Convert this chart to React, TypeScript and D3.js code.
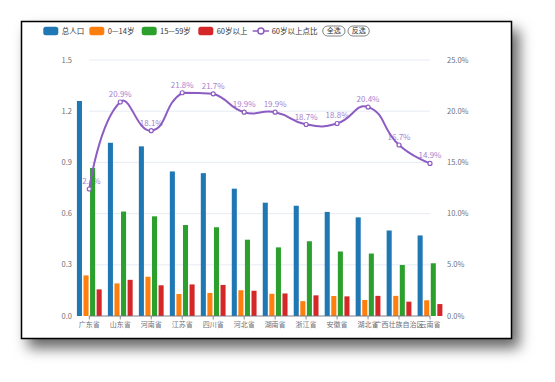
import React from "react";
import * as d3 from "d3";

const categories = ["广东省", "山东省", "河南省", "江苏省", "四川省", "河北省", "湖南省", "浙江省", "安徽省", "湖北省", "广西壮族自治区", "云南省"];
const totalPop = [1.26, 1.015, 0.994, 0.847, 0.837, 0.746, 0.664, 0.646, 0.61, 0.578, 0.501, 0.472];
const age0to14 = [0.238, 0.191, 0.23, 0.129, 0.135, 0.151, 0.13, 0.087, 0.117, 0.094, 0.118, 0.092];
const age15to59 = [0.867, 0.612, 0.584, 0.533, 0.52, 0.447, 0.402, 0.438, 0.378, 0.366, 0.299, 0.309];
const age60plus = [0.156, 0.212, 0.18, 0.185, 0.182, 0.148, 0.132, 0.121, 0.115, 0.118, 0.084, 0.07];
const ratio60 = [12.4, 20.9, 18.1, 21.8, 21.7, 19.9, 19.9, 18.7, 18.8, 20.4, 16.7, 14.9];
const leftTicks = [0, 0.3, 0.6, 0.9, 1.2, 1.5];
const rightTicks = [0, 5, 10, 15, 20, 25];
const barSeriesNames = ["总人口", "0—14岁", "15—59岁", "60岁以上"];
const lineSeriesName = "60岁以上点比";
const barColors = ["#1f77b4", "#ff7f0e", "#2ca02c", "#d62728"];
const lineColor = "#8c5cc2";

const FONT = "'Noto Sans CJK SC', 'Noto Sans', sans-serif";

function smoothPath(pts: [number, number][], smooth: number) {
  const min = [Infinity, Infinity];
  const max = [-Infinity, -Infinity];
  pts.forEach((p) => {
    min[0] = Math.min(min[0], p[0]); min[1] = Math.min(min[1], p[1]);
    max[0] = Math.max(max[0], p[0]); max[1] = Math.max(max[1], p[1]);
  });
  const cps: [number, number][] = [];
  const n = pts.length;
  for (let i = 0; i < n; i++) {
    const p = pts[i];
    if (i === 0 || i === n - 1) { cps.push([p[0], p[1]]); continue; }
    const prev = pts[i - 1], next = pts[i + 1];
    const vx = (next[0] - prev[0]) * smooth, vy = (next[1] - prev[1]) * smooth;
    let d0 = Math.hypot(p[0] - prev[0], p[1] - prev[1]);
    let d1 = Math.hypot(p[0] - next[0], p[1] - next[1]);
    const s = d0 + d1;
    if (s) { d0 /= s; d1 /= s; }
    const clamp = (c: [number, number]): [number, number] => [
      Math.min(Math.max(c[0], min[0]), max[0]),
      Math.min(Math.max(c[1], min[1]), max[1]),
    ];
    cps.push(clamp([p[0] - vx * d0, p[1] - vy * d0]));
    cps.push(clamp([p[0] + vx * d1, p[1] + vy * d1]));
  }
  const path = d3.path();
  path.moveTo(pts[0][0], pts[0][1]);
  for (let i = 0; i < n - 1; i++) {
    const c0 = cps[2 * i], c1 = cps[2 * i + 1], q = pts[i + 1];
    path.bezierCurveTo(c0[0], c0[1], c1[0], c1[1], q[0], q[1]);
  }
  return path.toString();
}

export default function App() {
  const W = 555, H = 382;
  const x0 = 89.3, x1 = 430, yTop = 60, yBot = 316;
  const x = d3.scalePoint<string>().domain(categories).range([x0, x1]);
  const step = x.step();
  const groupW = step * 0.8;
  const inner = d3.scaleBand<number>().domain([0, 1, 2, 3]).range([-groupW / 2, groupW / 2]).paddingInner(0.3 / 1.3).paddingOuter(0);
  const yL = d3.scaleLinear().domain([0, 1.5]).range([yBot, yTop]);
  const yR = d3.scaleLinear().domain([0, 25]).range([yBot, yTop]);
  const series = [totalPop, age0to14, age15to59, age60plus];
  const linePts: [number, number][] = categories.map((c, i) => [x(c) as number, yR(ratio60[i])]);
  const lineD = smoothPath(linePts, 0.5);

  const legendY = 31;
  const legendItems = [
    { rx: 43.3, tx: 61.7 },
    { rx: 89.3, tx: 107.7 },
    { rx: 141.7, tx: 160 },
    { rx: 198.3, tx: 216.7 },
  ];

  return (
    <div style={{ position: "absolute", left: 0, top: 0, width: W, height: H }}>
      <svg width={W} height={H} style={{ display: "block" }} fontFamily={FONT}>
        <defs>
          <filter id="shadow" x="-20%" y="-20%" width="150%" height="150%">
            <feDropShadow dx="7" dy="9" stdDeviation="7" floodColor="#000" floodOpacity="0.6" />
          </filter>
        </defs>
        <rect x={0} y={0} width={W} height={H} fill="#fff" />
        <rect x={21.5} y={21.5} width={490} height={317} fill="#fff" stroke="#000" strokeWidth={1.5} filter="url(#shadow)" />

        {/* legend */}
        {barSeriesNames.map((name, i) => (
          <g key={name}>
            <rect x={legendItems[i].rx} y={legendY - 4.25} width={15} height={8.5} rx={2.5} fill={barColors[i]} />
            <text x={legendItems[i].tx} y={legendY} dy="0.35em" fontSize={7.5} fill="#333">{name}</text>
          </g>
        ))}
        <line x1={252.7} x2={269} y1={legendY} y2={legendY} stroke={lineColor} strokeWidth={1.5} />
        <circle cx={260.9} cy={legendY} r={3} fill="#fff" stroke={lineColor} strokeWidth={1.5} />
        <text x={271.7} y={legendY} dy="0.35em" fontSize={7.5} fill="#333">{lineSeriesName}</text>
        {[{ x: 322.7, w: 22.3, t: "全选" }, { x: 348, w: 21.3, t: "反选" }].map((b) => (
          <g key={b.t}>
            <rect x={b.x} y={legendY - 5} width={b.w} height={10} rx={5} fill="#fff" stroke="#666" strokeWidth={0.8} />
            <text x={b.x + b.w / 2} y={legendY} dy="0.35em" fontSize={7} textAnchor="middle" fill="#333">{b.t}</text>
          </g>
        ))}

        {/* grid */}
        {leftTicks.map((t) => (
          <line key={"g" + t} x1={x0} x2={x1} y1={yL(t)} y2={yL(t)} stroke="#E0E6F1" strokeWidth={0.8} />
        ))}
        {leftTicks.map((t) => (
          <text key={"l" + t} x={72} y={yL(t)} dy="0.35em" textAnchor="end" fontSize={7.5} fill="#6E7079">{t.toFixed(1)}</text>
        ))}
        {rightTicks.map((t) => (
          <text key={"r" + t} x={447} y={yR(t)} dy="0.35em" textAnchor="start" fontSize={7.5} fill="#6E7079">{t.toFixed(1) + "%"}</text>
        ))}

        {/* line labels (under bars) */}
        {linePts.map((p, i) => (
          <text key={"ll" + i} x={p[0]} y={p[1] - 5} textAnchor="middle" fontSize={8} fill="#a782d0">{ratio60[i].toFixed(1) + "%"}</text>
        ))}

        {/* bars */}
        {series.map((vals, si) =>
          categories.map((c, ci) => (
            <rect key={si + "-" + ci} x={(x(c) as number) + (inner(si) as number)} y={yL(vals[ci])} width={inner.bandwidth()} height={yBot - yL(vals[ci])} fill={barColors[si]} />
          ))
        )}

        {/* x axis */}
        <line x1={x0} x2={x1} y1={yBot} y2={yBot} stroke="#6E7079" strokeWidth={0.8} />
        {categories.map((c) => (
          <line key={"t" + c} x1={x(c)} x2={x(c)} y1={yBot} y2={yBot + 3.5} stroke="#6E7079" strokeWidth={0.8} />
        ))}
        {categories.map((c) => (
          <text key={"x" + c} x={x(c)} y={yBot + 9} dy="0.35em" textAnchor="middle" fontSize={7} fill="#6E7079">{c}</text>
        ))}

        {/* line */}
        <path d={lineD} fill="none" stroke={lineColor} strokeWidth={2} />
        {linePts.map((p, i) => (
          <circle key={"c" + i} cx={p[0]} cy={p[1]} r={2} fill="#fff" stroke={lineColor} strokeWidth={1.2} />
        ))}
      </svg>
    </div>
  );
}
